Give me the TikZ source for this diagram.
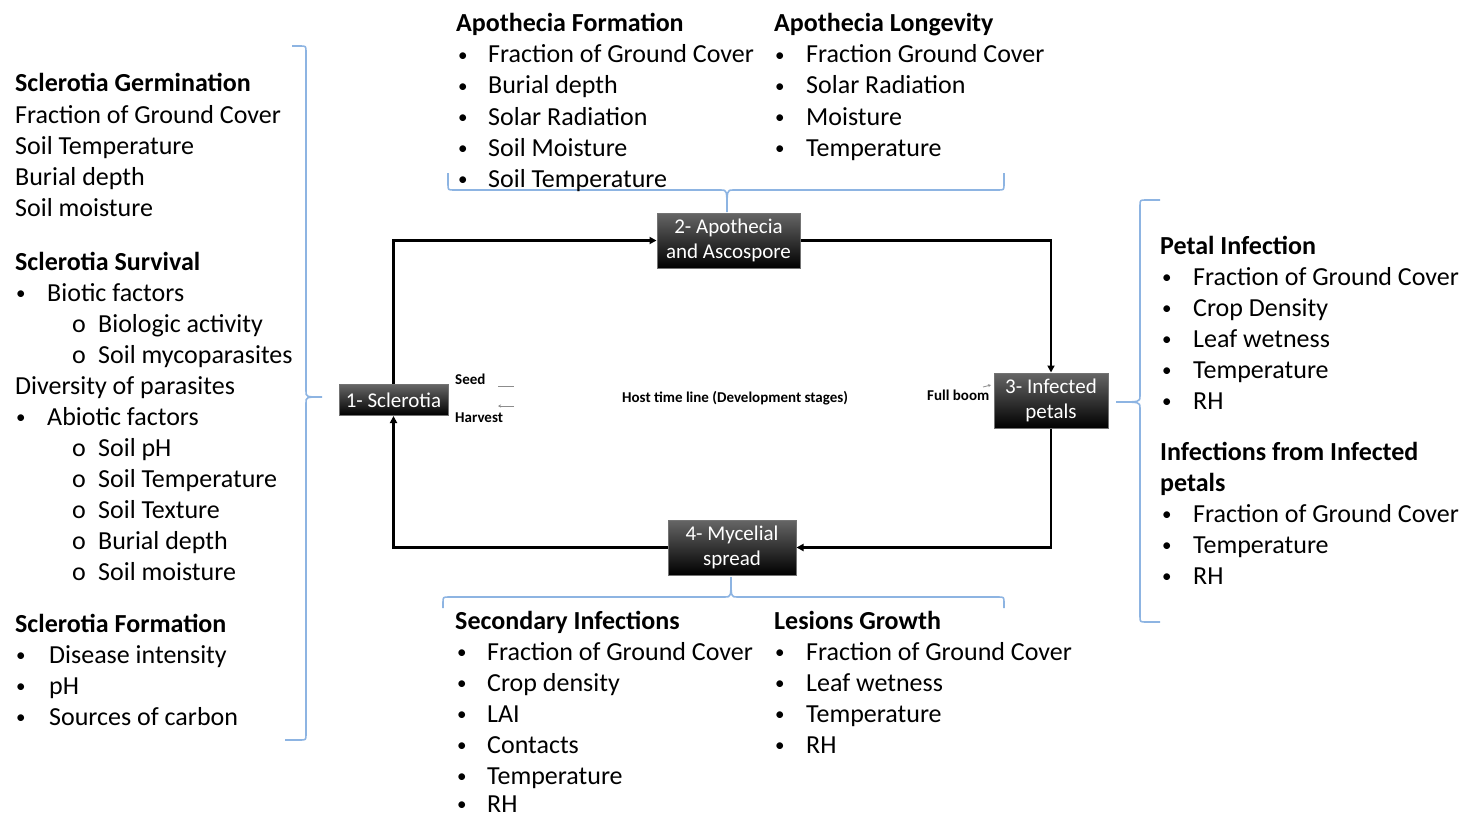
\documentclass[tikz,border=0pt]{standalone}
\usepackage{fontspec}
\setmainfont{Carlito}
\usetikzlibrary{arrows.meta}
\definecolor{bracecol}{RGB}{141,180,226}
\newcommand{\bdot}{\raisebox{1.5pt}{\fontsize{19}{20}\selectfont\textbullet}}
\newcommand{\bul}{\makebox[27pt][l]{\bdot}}
\newcommand{\bulw}{\makebox[31pt][l]{\bdot}}
\newcommand{\subb}{\makebox[26pt][l]{o}}
\begin{document}
\begin{tikzpicture}[x=1pt,y=-1pt,
  txt/.style={anchor=base west, inner sep=0pt, font=\fontsize{26}{30}\selectfont, text=black},
  hd/.style={txt, font=\fontsize{26}{30}\selectfont\bfseries},
  small/.style={anchor=base west, inner sep=0pt, font=\fontsize{15}{17}\selectfont\bfseries},
  stage/.style={draw=black!55, line width=1pt, top color=black!60, middle color=black, bottom color=black,
    text=white, font=\fontsize{21}{25}\selectfont, align=center, inner sep=0pt},
  flow/.style={line width=2.5pt, -{Triangle[length=7pt,width=7pt]}},
  brace/.style={draw=bracecol, line width=1.6pt},
  tl/.style={draw=black!45, line width=0.8pt}
]
\useasboundingbox (0,0) rectangle (1460,816);

% ---------- stage nodes ----------
\node[stage, minimum width=109pt, minimum height=31pt] (n1) at (393.5,400) {1- Sclerotia};
\node[stage, minimum width=143pt, minimum height=55pt] (n2) at (728.5,240.5) {2- Apothecia\\and Ascospore};
\node[stage, minimum width=114pt, minimum height=55pt] (n3) at (1051,400.5) {3- Infected\\petals};
\node[stage, minimum width=128pt, minimum height=55pt] (n4) at (732,547.5) {4- Mycelial\\spread};

% ---------- cycle ----------
\draw[flow] (n1.north) |- (n2.west);
\draw[flow] (n2.east) -| (n3.north);
\draw[flow] (n3.south) |- (n4.east);
\draw[flow] (n4.west) -| (n1.south);

% ---------- host time line ----------
\node[small] (seed) at (455,384) {Seed};
\node[small] (harvest) at (455,422) {Harvest};
\node[small] (host) at (622,402) {Host time line (Development stages)};
\node[small] (bloom) at (927,400) {Full boom};
\coordinate (sa) at (498,386); \coordinate (sb) at (514,386);
\coordinate (ha) at (514,406); \coordinate (hb) at (498,406);
\coordinate (fa) at (983,387); \coordinate (fb) at (991,385);
\draw[tl] (sa) -- (sb);
\draw[tl, -{Stealth[length=3pt,width=3pt]}] (ha) -- (hb);
\draw[tl, -{Stealth[length=3pt,width=3pt]}] (fa) -- (fb);

% ---------- braces ----------
\draw[brace] (292,46) -- (300,46) .. controls (306,46) .. (306,52) -- (306,391)
  .. controls (306,397) .. (322,397) .. controls (306,397) .. (306,403) -- (306,734)
  .. controls (306,740) .. (300,740) -- (285,740);
\draw[brace] (448,173) -- (448,184) .. controls (448,190) .. (454,190) -- (721,190)
  .. controls (727,190) .. (727,212) .. controls (727,190) .. (733,190) -- (998,190)
  .. controls (1004,190) .. (1004,184) -- (1004,173);
\draw[brace] (443,608) -- (443,603) .. controls (443,597) .. (449,597) -- (725,597)
  .. controls (731,597) .. (731,577) .. controls (731,597) .. (737,597) -- (998,597)
  .. controls (1004,597) .. (1004,603) -- (1004,608);
\draw[brace] (1160,200) -- (1146,200) .. controls (1140,200) .. (1140,206) -- (1140,396)
  .. controls (1140,402) .. (1116,402) .. controls (1140,402) .. (1140,408) -- (1140,616)
  .. controls (1140,622) .. (1146,622) -- (1160,622);

% ---------- left column ----------
\node[hd] (g0) at (15,92) {Sclerotia Germination};
\node[txt] (g1) at (15,123) {Fraction of Ground Cover};
\node[txt] (g2) at (15,154) {Soil Temperature};
\node[txt] (g3) at (15,185) {Burial depth};
\node[txt] (g4) at (15,216) {Soil moisture};
\node[hd] (s0) at (15,270) {Sclerotia Survival};
\node[txt] (s1) at (16,301) {\bulw Biotic factors};
\node[txt] (s2) at (72,332) {\subb Biologic activity};
\node[txt] (s3) at (72,363) {\subb Soil mycoparasites};
\node[txt] (s4) at (15,394) {Diversity of parasites};
\node[txt] (s5) at (16,425) {\bulw Abiotic factors};
\node[txt] (s6) at (72,456) {\subb Soil pH};
\node[txt] (s7) at (72,487) {\subb Soil Temperature};
\node[txt] (s8) at (72,518) {\subb Soil Texture};
\node[txt] (s9) at (72,549) {\subb Burial depth};
\node[txt] (s10) at (72,580) {\subb Soil moisture};
\node[hd] (f0) at (15,632) {Sclerotia Formation};
\node[txt] (f1) at (16,663) {\makebox[33pt][l]{\bdot}Disease intensity};
\node[txt] (f2) at (16,694) {\makebox[33pt][l]{\bdot}pH};
\node[txt] (f3) at (16,725) {\makebox[33pt][l]{\bdot}Sources of carbon};

% ---------- top ----------
\node[hd] (af0) at (456,32) {Apothecia Formation};
\node[txt] (af1) at (458,63) {\makebox[30pt][l]{\bdot}Fraction of Ground Cover};
\node[txt] (af2) at (458,94) {\makebox[30pt][l]{\bdot}Burial depth};
\node[txt] (af3) at (458,125) {\makebox[30pt][l]{\bdot}Solar Radiation};
\node[txt] (af4) at (458,156) {\makebox[30pt][l]{\bdot}Soil Moisture};
\node[txt] (af5) at (458,187) {\makebox[30pt][l]{\bdot}Soil Temperature};
\node[hd] (al0) at (774,32) {Apothecia Longevity};
\node[txt] (al1) at (775,63) {\makebox[31pt][l]{\bdot}Fraction Ground Cover};
\node[txt] (al2) at (775,94) {\makebox[31pt][l]{\bdot}Solar Radiation};
\node[txt] (al3) at (775,125) {\makebox[31pt][l]{\bdot}Moisture};
\node[txt] (al4) at (775,156) {\makebox[31pt][l]{\bdot}Temperature};

% ---------- right ----------
\node[hd] (p0) at (1160,254) {Petal Infection};
\node[txt] (p1) at (1162,285) {\makebox[31pt][l]{\bdot}Fraction of Ground Cover};
\node[txt] (p2) at (1162,316) {\makebox[31pt][l]{\bdot}Crop Density};
\node[txt] (p3) at (1162,347) {\makebox[31pt][l]{\bdot}Leaf wetness};
\node[txt] (p4) at (1162,378) {\makebox[31pt][l]{\bdot}Temperature};
\node[txt] (p5) at (1162,409) {\makebox[31pt][l]{\bdot}RH};
\node[hd] (i0) at (1160,460) {Infections from Infected};
\node[hd] (i1) at (1160,491) {petals};
\node[txt] (i2) at (1162,522) {\makebox[31pt][l]{\bdot}Fraction of Ground Cover};
\node[txt] (i3) at (1162,553) {\makebox[31pt][l]{\bdot}Temperature};
\node[txt] (i4) at (1162,584) {\makebox[31pt][l]{\bdot}RH};

% ---------- bottom ----------
\node[hd] (si0) at (455,629) {Secondary Infections};
\node[txt] (si1) at (457,660) {\makebox[30pt][l]{\bdot}Fraction of Ground Cover};
\node[txt] (si2) at (457,691) {\makebox[30pt][l]{\bdot}Crop density};
\node[txt] (si3) at (457,722) {\makebox[30pt][l]{\bdot}LAI};
\node[txt] (si4) at (457,753) {\makebox[30pt][l]{\bdot}Contacts};
\node[txt] (si5) at (457,784) {\makebox[30pt][l]{\bdot}Temperature};
\node[txt] (si6) at (457,812) {\makebox[30pt][l]{\bdot}RH};
\node[hd] (lg0) at (774,629) {Lesions Growth};
\node[txt] (lg1) at (775,660) {\makebox[31pt][l]{\bdot}Fraction of Ground Cover};
\node[txt] (lg2) at (775,691) {\makebox[31pt][l]{\bdot}Leaf wetness};
\node[txt] (lg3) at (775,722) {\makebox[31pt][l]{\bdot}Temperature};
\node[txt] (lg4) at (775,753) {\makebox[31pt][l]{\bdot}RH};
\end{tikzpicture}
\end{document}
